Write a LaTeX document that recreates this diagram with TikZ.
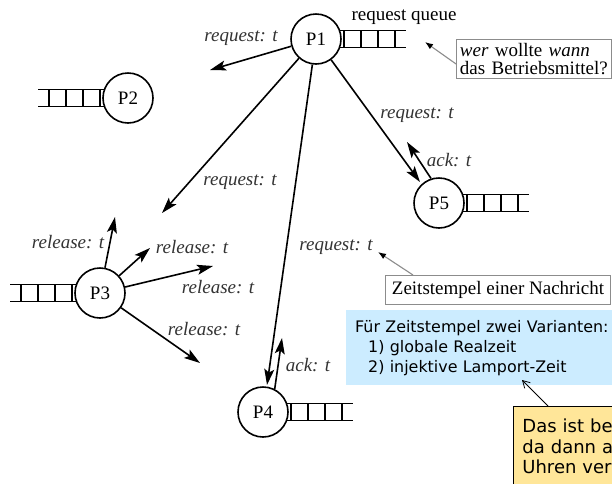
\documentclass[tikz,border=0pt]{standalone}
\usepackage{fontspec}
\setmainfont{Liberation Serif}
\newfontfamily\boxsans{DejaVu Sans}
\usetikzlibrary{arrows.meta}
\definecolor{noteblue}{RGB}{204,236,255}
\definecolor{noteyellow}{RGB}{255,230,153}
\definecolor{boxgrey}{RGB}{140,140,140}
\begin{document}
\begin{tikzpicture}[x=1pt,y=-1pt,
  proc/.style={circle, draw, line width=1.6pt, minimum size=50pt, inner sep=0pt,
    font=\fontsize{19}{22}\selectfont},
  msg/.style={line width=1.6pt, -{Stealth[length=16pt,width=10pt,inset=3.5pt]}},
  lbl/.style={font=\fontsize{19}{22}\selectfont\itshape, text=black!80, inner sep=0pt},
  rail/.style={line width=1.8pt},
  notearr/.style={draw=boxgrey, line width=1.1pt, -{Latex[length=8pt,width=6pt,black]}},
  greybox/.style={draw=boxgrey, line width=0.9pt, fill=white, font=\fontsize{19}{17.5}\selectfont},
  queue/.pic={
    \draw[rail] (-2,-8.5) -- (64,-8.5) (-2,8.5) -- (64,8.5);
    \foreach \d in {2,19,36,53} \draw[rail] (\d,-8.5) -- (\d,8.5);
  }]
\clip (0,0) rectangle (612,483);
\fill[white] (0,0) rectangle (612,483);

% processes
\node[proc] (p1) at (316,39) {P1};
\node[proc] (p2) at (128,98) {P2};
\node[proc] (p3) at (100,293) {P3};
\node[proc] (p4) at (263,412) {P4};
\node[proc] (p5) at (439,203) {P5};

% queues
\pic at (p1.east) {queue};
\pic[xscale=-1] at (p2.west) {queue};
\pic[xscale=-1] at (p3.west) {queue};
\pic at (p4.east) {queue};
\pic at (p5.east) {queue};
\node[font=\fontsize{19}{22}\selectfont, inner sep=0pt] (rq) at (404,17) {request queue};

% message ends
\coordinate (t1) at (210,70);
\coordinate (t2) at (162,213);
\coordinate (t3) at (267,385);
\coordinate (t4) at (420,182);
\coordinate (a5) at (407,142);
\coordinate (a4) at (282,338);
\coordinate (r1) at (115,217);
\coordinate (r2) at (150,248);
\coordinate (r3) at (213,266);
\coordinate (r4) at (200,363);

\draw[msg] (p1) -- (t1);
\draw[msg] (p1) -- (t2);
\draw[msg] (p1) -- (t3);
\draw[msg] (p1) -- (t4);
\draw[msg] (p5.108) -- (a5);
\draw[msg] (p4.63) -- (a4);
\draw[msg] (p3) -- (r1);
\draw[msg] (p3) -- (r2);
\draw[msg] (p3) -- (r3);
\draw[msg] (p3) -- (r4);

% labels
\node[lbl] (l1) at (241,38) {request: t};
\node[lbl] (l2) at (240,182) {request: t};
\node[lbl] (l3) at (417,115) {request: t};
\node[lbl] (l4) at (449,160) {ack: t};
\node[lbl] (l5) at (308,365) {ack: t};
\node[lbl] (l6) at (336,247) {request: t};
\node[lbl] (rl1) at (68,242) {release: t};
\node[lbl] (rl2) at (192,247) {release: t};
\node[lbl] (rl3) at (218,287) {release: t};
\node[lbl] (rl4) at (204,329) {release: t};

% grey annotation boxes
\node[greybox, anchor=north west, text width=148pt, inner xsep=3.5pt,
      minimum height=39pt, inner ysep=1.5pt, align=left] (wer) at (456,39)
  {\textit{wer} wollte \textit{wann}\\das Betriebsmittel?};
\coordinate (werTip) at (425,42);
\draw[notearr] ([yshift=-5pt]wer.west) -- (werTip);

\node[greybox, anchor=north west, minimum width=225pt, minimum height=29pt,
      inner sep=0pt] (zs) at (385,275) {Zeitstempel einer Nachricht};
\coordinate (zsTip) at (378,252);
\draw[notearr] ([xshift=28pt]zs.north west) -- (zsTip);

% blue note
\node[fill=noteblue, anchor=north west, text width=262pt, inner xsep=9pt,
      minimum height=75pt, align=left, inner ysep=0pt,
      font=\boxsans\fontsize{15.9}{20}\selectfont] (blu) at (346,310)
  {Für Zeitstempel zwei Varianten:\\\hspace*{13pt}1) globale Realzeit\\\hspace*{13pt}2) injektive Lamport-Zeit};

% yellow note (runs past the right edge of the picture)
\node[draw=black, line width=0.8pt, fill=noteyellow, anchor=north west,
      text width=200pt, inner xsep=9pt, inner ysep=0pt, minimum height=80pt, align=left,
      font=\boxsans\fontsize{18}{20.5}\selectfont] (yel) at (513,406)
  {Das ist be\\da dann a\\Uhren ver};
\coordinate (yelTip) at (522,380);
\draw[line width=0.8pt, -{Straight Barb[length=7pt,width=8pt]}] ([xshift=35pt]yel.north west) -- (yelTip);
\end{tikzpicture}
\end{document}
